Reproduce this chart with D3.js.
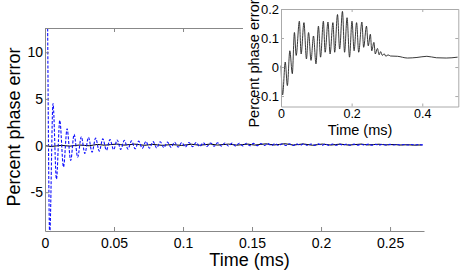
<!DOCTYPE html>
<html>
<head>
<meta charset="utf-8">
<title>Percent phase error</title>
<script src="https://cdn.jsdelivr.net/npm/d3@7"></script>
<style>
  body { margin: 0; background: #fff; }
  text { font-family: "Liberation Sans", Arial, sans-serif; fill: #000; }
</style>
</head>
<body>
<div id="chart"></div>
<script>
// tick values
const mainXTicks = [0, 0.05, 0.1, 0.15, 0.2, 0.25];
const mainYTicks = [-5, 0, 5, 10];
const insetXTicks = [0, 0.2, 0.4];
const insetYTicks = [-0.1, 0, 0.1, 0.2];

// solid black curve, time in ms, percent phase error
const blackTime = [0, 0.0046, 0.012, 0.018, 0.025, 0.032, 0.038, 0.043, 0.052, 0.057,
  0.065, 0.072, 0.078, 0.085, 0.092, 0.099, 0.106, 0.112, 0.12, 0.125,
  0.133, 0.139, 0.147, 0.152, 0.16, 0.166, 0.174, 0.18, 0.187, 0.194,
  0.201, 0.207, 0.214, 0.22, 0.229, 0.234, 0.242, 0.247, 0.253, 0.257,
  0.263, 0.267, 0.273, 0.278, 0.282, 0.287, 0.292, 0.297, 0.303, 0.31,
  0.33, 0.358, 0.385, 0.413, 0.44, 0.468, 0.5];
const blackValue = [0.005, -0.096, 0.017, -0.064, 0.056, -0.023, 0.119, 0.04, 0.158, 0.045,
  0.153, 0.028, 0.119, 0.023, 0.107, 0.011, 0.141, 0.034, 0.158, 0.051,
  0.155, 0.045, 0.153, 0.051, 0.181, 0.062, 0.192, 0.051, 0.17, 0.034,
  0.158, 0.056, 0.153, 0.051, 0.155, 0.068, 0.141, 0.073, 0.113, 0.056,
  0.085, 0.045, 0.064, 0.042, 0.053, 0.04, 0.046, 0.037, 0.042, 0.038,
  0.037, 0.031, 0.033, 0.037, 0.032, 0.031, 0.034];

// dashed blue curve, peaks and troughs
const blueTime = [0, 0.0009, 0.0034, 0.0058, 0.0083, 0.0107, 0.0134, 0.016, 0.0186, 0.0211,
  0.0237, 0.0263, 0.0289, 0.0315, 0.0341, 0.0367, 0.0393, 0.0419, 0.0445, 0.0471,
  0.0497, 0.0523, 0.0549, 0.0575, 0.0601, 0.0627, 0.0653, 0.0679, 0.0705, 0.0731,
  0.0757, 0.0783, 0.0809, 0.0835, 0.0861, 0.0887, 0.0913, 0.0939, 0.0965, 0.0991,
  0.1017, 0.1043, 0.1069, 0.1095, 0.1121, 0.1147, 0.1173, 0.1199, 0.1225, 0.1251,
  0.1277, 0.1303, 0.1329, 0.1355, 0.1381, 0.1407, 0.1433, 0.1459, 0.1485, 0.1511,
  0.1537, 0.1563, 0.1589, 0.1615, 0.1641, 0.1667, 0.1693, 0.1719, 0.1745, 0.1771,
  0.1797, 0.1823, 0.1849, 0.1875, 0.1901, 0.1927, 0.1953, 0.1979, 0.2005, 0.2031,
  0.2057, 0.2083, 0.2109, 0.2135, 0.2161, 0.2187, 0.2213, 0.2239, 0.2265, 0.2291,
  0.2317, 0.2343, 0.2369, 0.2395, 0.2421, 0.2447, 0.2473, 0.2499, 0.2525, 0.2551,
  0.2577, 0.2603, 0.2629, 0.2655, 0.2681, 0.2707, 0.2733, 0.275];
const blueValue = [0, 25, -9.6, 4.5, -3.6, 2.7, -2.3, 1.8, -1.6, 1.2,
  -1.25, 0.95, -0.85, 0.88, -0.7, 0.8, -0.6, 0.72, -0.5, 0.65,
  -0.45, 0.6, -0.42, 0.55, -0.38, 0.5, -0.35, 0.47, -0.3, 0.44,
  -0.28, 0.42, -0.25, 0.4, -0.22, 0.37, -0.2, 0.36, -0.18, 0.33,
  -0.15, 0.32, -0.12, 0.33, -0.1, 0.3, -0.1, 0.28, -0.08, 0.3,
  -0.06, 0.27, -0.05, 0.26, -0.05, 0.24, -0.04, 0.25, -0.02, 0.23,
  -0.02, 0.22, 0, 0.21, -0.01, 0.2, 0, 0.2, 0.01, 0.19,
  0, 0.18, 0.02, 0.19, 0.01, 0.17, 0.02, 0.18, 0.03, 0.16,
  0.02, 0.17, 0.03, 0.15, 0.04, 0.16, 0.03, 0.15, 0.04, 0.14,
  0.05, 0.15, 0.04, 0.13, 0.05, 0.14, 0.05, 0.13, 0.06, 0.12,
  0.05, 0.12, 0.06, 0.11, 0.06, 0.11, 0.07, 0.09];

const svg = d3.select('#chart').append('svg')
    .attr('width', 463)
    .attr('height', 271);

// ---- main plot ----
const x = d3.scaleLinear().domain([0, 0.2746]).range([45, 424]);
const y = d3.scaleLinear().domain([-9.16, 12.6]).range([231, 28]);

svg.append('clipPath').attr('id', 'mainClip')
  .append('rect')
    .attr('x', x.range()[0]).attr('y', y.range()[1])
    .attr('width', x.range()[1] - x.range()[0])
    .attr('height', y.range()[0] - y.range()[1]);

const blackPts = d3.zip(blackTime, blackValue);
const bluePts = d3.zip(blueTime, blueValue);

const mainLine = d3.line()
    .x(d => x(d[0]))
    .y(d => y(d[1]))
    .curve(d3.curveMonotoneX);

const plot = svg.append('g').attr('clip-path', 'url(#mainClip)');
plot.append('path')
    .attr('d', mainLine(blackPts.filter(d => d[0] <= 0.2746)))
    .attr('fill', 'none')
    .attr('stroke', '#000')
    .attr('stroke-width', 1);
plot.append('path')
    .attr('d', mainLine(bluePts))
    .attr('fill', 'none')
    .attr('stroke', '#1010ff')
    .attr('stroke-width', 1.1)
    .attr('stroke-dasharray', '3,1.6');

const fmt = d => String(d);

function styleAxis(g, color) {
  g.selectAll('.domain').attr('stroke', color);
  g.selectAll('.tick line').attr('stroke', color);
  g.selectAll('.tick text').attr('fill', '#000');
}

svg.append('g')
    .attr('transform', `translate(0,${y.range()[0]})`)
    .call(d3.axisBottom(x).tickValues(mainXTicks).tickFormat(fmt)
      .tickSizeInner(-4).tickSizeOuter(0).tickPadding(7))
    .attr('font-size', 14)
    .attr('font-family', '"Liberation Sans", Arial, sans-serif')
    .call(g => styleAxis(g, '#888'));

svg.append('g')
    .attr('transform', `translate(0,${y.range()[1]})`)
    .call(d3.axisTop(x).tickValues(mainXTicks).tickFormat('')
      .tickSizeInner(-4).tickSizeOuter(0))
    .call(g => styleAxis(g, '#888'));

svg.append('g')
    .attr('transform', `translate(${x.range()[0]},0)`)
    .call(d3.axisLeft(y).tickValues(mainYTicks).tickFormat(fmt)
      .tickSizeInner(-4).tickSizeOuter(0).tickPadding(2))
    .attr('font-size', 14)
    .attr('font-family', '"Liberation Sans", Arial, sans-serif')
    .call(g => styleAxis(g, '#888'));

svg.append('text')
    .attr('x', 249.5).attr('y', 266)
    .attr('text-anchor', 'middle')
    .attr('font-size', 18)
    .text('Time (ms)');

svg.append('text')
    .attr('transform', 'translate(20.2,127) rotate(-90)')
    .attr('text-anchor', 'middle')
    .attr('font-size', 18)
    .text('Percent phase error');

// ---- inset ----
svg.append('rect')
    .attr('x', 243).attr('y', 0)
    .attr('width', 220).attr('height', 139)
    .attr('fill', '#fff');

const xi = d3.scaleLinear().domain([0, 0.502]).range([281, 458.3]);
const yi = d3.scaleLinear().domain([-0.136, 0.2]).range([106.5, 9]);

const insetLine = d3.line()
    .x(d => xi(d[0]))
    .y(d => yi(d[1]))
    .curve(d3.curveMonotoneX);

svg.append('path')
    .attr('d', insetLine(blackPts))
    .attr('fill', 'none')
    .attr('stroke', '#222')
    .attr('stroke-width', 0.9);

svg.append('g')
    .attr('transform', `translate(0,${yi.range()[0]})`)
    .call(d3.axisBottom(xi).tickValues(insetXTicks).tickFormat(fmt)
      .tickSizeInner(-3).tickSizeOuter(0).tickPadding(3))
    .attr('font-size', 12.5)
    .attr('font-family', '"Liberation Sans", Arial, sans-serif')
    .call(g => styleAxis(g, '#aaa'));
svg.append('g')
    .attr('transform', `translate(0,${yi.range()[1]})`)
    .call(d3.axisTop(xi).tickValues(insetXTicks).tickFormat('')
      .tickSizeInner(-3).tickSizeOuter(0))
    .call(g => styleAxis(g, '#aaa'));
svg.append('g')
    .attr('transform', `translate(${xi.range()[0]},0)`)
    .call(d3.axisLeft(yi).tickValues(insetYTicks).tickFormat(fmt)
      .tickSizeInner(-3).tickSizeOuter(0).tickPadding(2))
    .attr('font-size', 13)
    .attr('font-family', '"Liberation Sans", Arial, sans-serif')
    .call(g => styleAxis(g, '#aaa'));
svg.append('g')
    .attr('transform', `translate(${xi.range()[1]},0)`)
    .call(d3.axisRight(yi).tickValues(insetYTicks).tickFormat('')
      .tickSizeInner(-3).tickSizeOuter(0))
    .call(g => styleAxis(g, '#aaa'));

svg.append('text')
    .attr('x', 360).attr('y', 134.5)
    .attr('text-anchor', 'middle')
    .attr('font-size', 14.5)
    .text('Time (ms)');

svg.append('text')
    .attr('transform', 'translate(258.5,63.5) rotate(-90)')
    .attr('text-anchor', 'middle')
    .attr('font-size', 14.5)
    .text('Percent phase error');
</script>
</body>
</html>
